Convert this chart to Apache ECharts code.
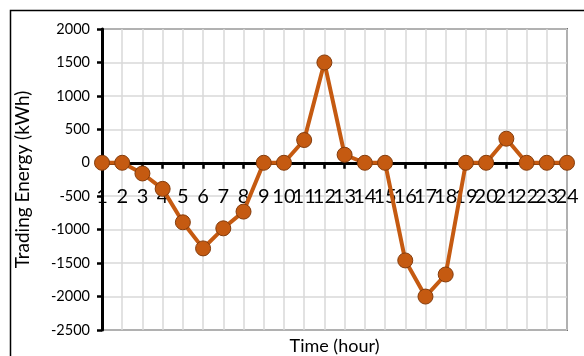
<!DOCTYPE html>
<html>
<head>
<meta charset="utf-8">
<script src="https://cdn.jsdelivr.net/npm/echarts@6/dist/echarts.min.js"></script>
<style>
  html, body { margin: 0; padding: 0; background: #fff; }
  #box { width: 584px; height: 356px; }
</style>
</head>
<body>
<div id="box"></div>
<script>
// hours on the x axis
const hours = ["1","2","3","4","5","6","7","8","9","10","11","12","13","14","15","16","17","18","19","20","21","22","23","24"];
// trading energy per hour (kWh)
const tradingEnergy = [0, 0, -160, -390, -890, -1280, -980, -730, 0, 0, 340, 1500, 120, 0, 0, -1460, -2000, -1670, 0, 0, 360, 0, 0, 0];
// y axis range
const yMin = -2500;
const yMax = 2000;
const yStep = 500;

const font = "Lato";
const myChart = echarts.init(document.getElementById("box"));

const option = {
  backgroundColor: "#fff",
  animation: false,
  // outer frame of the chart area
  graphic: [
    {
      type: "rect",
      shape: { x: 10.5, y: 10.5, width: 640, height: 420 },
      style: { fill: "none", stroke: "#000", lineWidth: 1.5 },
      silent: true,
    },
  ],
  grid: {
    left: 102,
    right: 17,
    top: 29,
    bottom: 26,
    containLabel: false,
    outerBoundsMode: "none",
    show: true,
    borderColor: "#000",
    borderWidth: 1.5,
  },
  xAxis: {
    type: "category",
    data: hours,
    boundaryGap: false,
    name: "Time (hour)",
    nameLocation: "middle",
    nameGap: 7,
    nameTextStyle: { fontFamily: font, fontSize: 18, color: "#000" },
    axisLine: { onZero: true, lineStyle: { color: "#000", width: 3 } },
    axisTick: { show: true, alignWithLabel: true, length: 6, lineStyle: { color: "#000", width: 2.5 } },
    axisLabel: {
      interval: 0,
      hideOverlap: false,
      // labels sit just under the zero line, like the original
      margin: -143,
      fontFamily: font,
      fontSize: 20,
      color: "#000",
    },
    splitLine: { show: true, lineStyle: { color: "#d9d9d9", width: 1.5 } },
  },
  yAxis: {
    type: "value",
    min: yMin,
    max: yMax,
    interval: yStep,
    name: "Trading Energy (kWh)",
    nameLocation: "middle",
    nameGap: 70,
    nameTextStyle: { fontFamily: font, fontSize: 19, color: "#000" },
    axisLine: { show: true, lineStyle: { color: "#000", width: 3 } },
    axisTick: { show: true, length: 5, lineStyle: { color: "#000", width: 2.5 } },
    axisLabel: {
      margin: 12,
      fontFamily: font,
      fontSize: 14.5,
      color: "#000",
      formatter: (v) => String(v),
    },
    splitLine: { show: true, lineStyle: { color: "#d9d9d9", width: 1.5 } },
  },
  series: [
    {
      name: "Trading Energy",
      type: "line",
      data: tradingEnergy,
      symbol: "circle",
      symbolSize: 15,
      lineStyle: { color: "#C55A11", width: 4 },
      itemStyle: { color: "#C55A11", borderColor: "#843C0C", borderWidth: 1 },
      z: 3,
    },
  ],
};
myChart.setOption(option);
</script>
</body>
</html>
